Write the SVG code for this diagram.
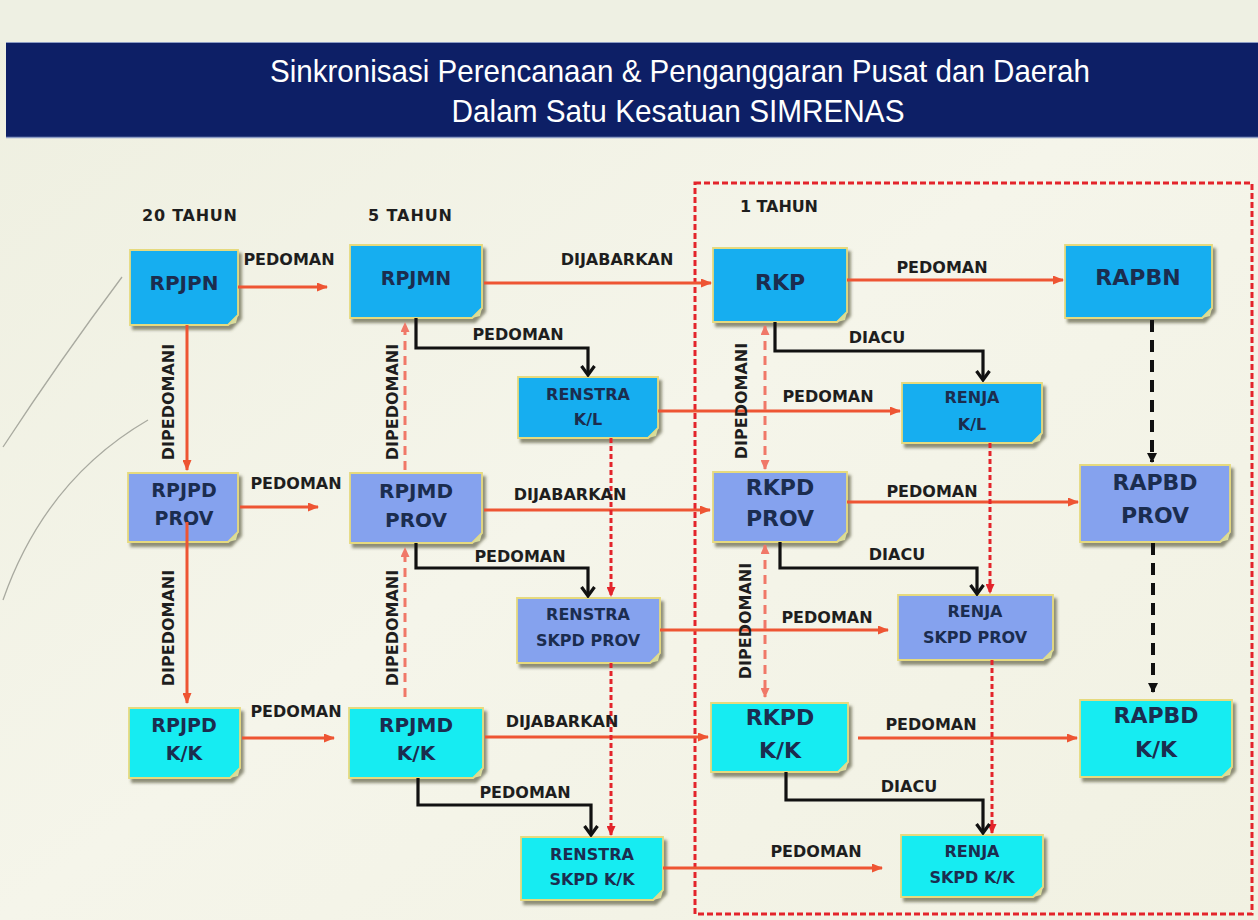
<svg xmlns="http://www.w3.org/2000/svg" width="1258" height="920" viewBox="0 0 1258 920">
<defs>
<linearGradient id="bg" x1="0" y1="0" x2="1" y2="1">
<stop offset="0" stop-color="#eeefe0"/>
<stop offset="0.5" stop-color="#f5f5ea"/>
<stop offset="1" stop-color="#f1f1e2"/>
</linearGradient>
<filter id="sh" x="-10%" y="-10%" width="130%" height="140%">
<feDropShadow dx="3" dy="4" stdDeviation="1.6" flood-color="#47472c" flood-opacity="0.6"/>
</filter>
<marker id="aO" markerUnits="userSpaceOnUse" markerWidth="11" markerHeight="9" refX="10" refY="4.5" orient="auto"><path d="M0,0 L11,4.5 L0,9 Z" fill="#ee5533"/></marker>
<marker id="aS" markerUnits="userSpaceOnUse" markerWidth="10" markerHeight="9" refX="9" refY="4.5" orient="auto-start-reverse"><path d="M0,0 L10,4.5 L0,9 Z" fill="#f07868"/></marker>
<marker id="aC" markerUnits="userSpaceOnUse" markerWidth="10" markerHeight="9" refX="9" refY="4.5" orient="auto"><path d="M0,0 L10,4.5 L0,9 Z" fill="#e3242b"/></marker>
<marker id="aV" markerUnits="userSpaceOnUse" markerWidth="12" markerHeight="16" refX="10" refY="8" orient="auto"><path d="M1,1.5 L10,8 L1,14.5" fill="none" stroke="#111" stroke-width="3.2"/></marker>
<marker id="aB" markerUnits="userSpaceOnUse" markerWidth="10" markerHeight="10" refX="9" refY="5" orient="auto"><path d="M0,0 L10,5 L0,10 Z" fill="#111"/></marker>
<style>
.box{stroke:#e6da7e;stroke-width:1.8;filter:url(#sh)}
.n1{fill:#12aef0}
.n2{fill:#85a2ee}
.n3{fill:#16ecf2}
.fold{fill:#d8dc9c}
.nt{font-family:"DejaVu Sans",Verdana,sans-serif;font-weight:bold;fill:#1b2d4f;text-anchor:middle}
.lb{font-family:"DejaVu Sans",Verdana,sans-serif;font-weight:bold;font-size:16px;fill:#1e1e1e;text-anchor:middle}
.yr{font-family:"DejaVu Sans",Verdana,sans-serif;font-weight:bold;font-size:16px;fill:#1e1e1e}
.or{fill:none;stroke:#ee5533;stroke-width:3;marker-end:url(#aO)}
.sd{fill:none;stroke:#f07868;stroke-width:3;stroke-dasharray:9 6}
.cd{fill:none;stroke:#e3242b;stroke-width:3;stroke-dasharray:5 3}
.bk{fill:none;stroke:#111;stroke-width:3.2;marker-end:url(#aV)}
.bd{fill:none;stroke:#111;stroke-width:4;stroke-dasharray:12 8;marker-end:url(#aB)}
.title{font-family:"Liberation Sans",Arial,sans-serif;font-size:32px;fill:#ffffff;text-anchor:middle}
</style>
</defs>

<rect width="1258" height="920" fill="url(#bg)"/>
<rect width="1258" height="42" fill="#eef0e3"/>
<g id="deco" fill="none" stroke="#a9aaa0" stroke-width="1.3">
<path d="M3,447 Q60,360 122,277"/>
<path d="M3,600 Q45,480 148,420"/>
</g>

<g id="banner">
<rect x="6" y="42" width="1252" height="96" fill="#0d1f66"/>
<line x1="6" y1="42.5" x2="1258" y2="42.5" stroke="#8c9cc4" stroke-width="1.2"/>
<line x1="6" y1="137.5" x2="1258" y2="137.5" stroke="#8c9cc4" stroke-width="1.5"/>
<text class="title" x="680" y="82" textLength="820" lengthAdjust="spacingAndGlyphs">Sinkronisasi Perencanaan &amp; Penganggaran Pusat dan Daerah</text>
<text class="title" x="678" y="122" textLength="453" lengthAdjust="spacingAndGlyphs">Dalam Satu Kesatuan SIMRENAS</text>
</g>

<rect id="frame" x="695" y="183" width="557" height="731" fill="none" stroke="#e3242b" stroke-width="3" stroke-dasharray="6 3"/>

<g id="years">
<text class="yr" x="142" y="221" textLength="95">20 TAHUN</text>
<text class="yr" x="368" y="221" textLength="84">5 TAHUN</text>
<text class="yr" x="740" y="212" textLength="78">1 TAHUN</text>
</g>

<g id="nodes">
<g id="RPJPN"><path class="box n1" d="M130,250 H238 V315 L228,325 H130 Z"/><polygon class="fold" points="238,315 228,325 236,323"/><text class="nt" x="184" y="290" font-size="20">RPJPN</text></g>
<g id="RPJMN"><path class="box n1" d="M350,245 H482 V308 L472,318 H350 Z"/><polygon class="fold" points="482,308 472,318 480,316"/><text class="nt" x="416" y="285" font-size="19">RPJMN</text></g>
<g id="RKP"><path class="box n1" d="M713,248 H847 V312 L837,322 H713 Z"/><polygon class="fold" points="847,312 837,322 845,320"/><text class="nt" x="780" y="290" font-size="22">RKP</text></g>
<g id="RAPBN"><path class="box n1" d="M1065,245 H1212 V308 L1202,318 H1065 Z"/><polygon class="fold" points="1212,308 1202,318 1210,316"/><text class="nt" x="1138" y="285" font-size="22">RAPBN</text></g>
<g id="RENSTRA_KL"><path class="box n1" d="M518,377 H658 V428 L648,438 H518 Z"/><polygon class="fold" points="658,428 648,438 656,436"/><text class="nt" x="588" y="400" font-size="16">RENSTRA</text><text class="nt" x="588" y="425" font-size="16">K/L</text></g>
<g id="RENJA_KL"><path class="box n1" d="M902,383 H1042 V433 L1032,443 H902 Z"/><polygon class="fold" points="1042,433 1032,443 1040,441"/><text class="nt" x="972" y="403" font-size="16">RENJA</text><text class="nt" x="972" y="430" font-size="16">K/L</text></g>

<g id="RPJPD_PROV"><path class="box n2" d="M128,473 H238 V532 L228,542 H128 Z"/><polygon class="fold" points="238,532 228,542 236,540"/><text class="nt" x="184" y="497" font-size="19">RPJPD</text><text class="nt" x="184" y="525" font-size="19">PROV</text></g>
<g id="RPJMD_PROV"><path class="box n2" d="M350,473 H482 V533 L472,543 H350 Z"/><polygon class="fold" points="482,533 472,543 480,541"/><text class="nt" x="416" y="498" font-size="20">RPJMD</text><text class="nt" x="416" y="527" font-size="20">PROV</text></g>
<g id="RKPD_PROV"><path class="box n2" d="M713,472 H847 V532 L837,542 H713 Z"/><polygon class="fold" points="847,532 837,542 845,540"/><text class="nt" x="780" y="495" font-size="22">RKPD</text><text class="nt" x="780" y="526" font-size="22">PROV</text></g>
<g id="RAPBD_PROV"><path class="box n2" d="M1080,465 H1230 V532 L1220,542 H1080 Z"/><polygon class="fold" points="1230,532 1220,542 1228,540"/><text class="nt" x="1155" y="490" font-size="22">RAPBD</text><text class="nt" x="1155" y="523" font-size="22">PROV</text></g>
<g id="RENSTRA_SKPD_PROV"><path class="box n2" d="M517,598 H660 V653 L650,663 H517 Z"/><polygon class="fold" points="660,653 650,663 658,661"/><text class="nt" x="588" y="620" font-size="16">RENSTRA</text><text class="nt" x="588" y="646" font-size="16">SKPD PROV</text></g>
<g id="RENJA_SKPD_PROV"><path class="box n2" d="M898,595 H1053 V650 L1043,660 H898 Z"/><polygon class="fold" points="1053,650 1043,660 1051,658"/><text class="nt" x="975" y="617" font-size="16">RENJA</text><text class="nt" x="975" y="643" font-size="16">SKPD PROV</text></g>

<g id="RPJPD_KK"><path class="box n3" d="M129,708 H240 V768 L230,778 H129 Z"/><polygon class="fold" points="240,768 230,778 238,776"/><text class="nt" x="184" y="732" font-size="19">RPJPD</text><text class="nt" x="184" y="760" font-size="19">K/K</text></g>
<g id="RPJMD_KK"><path class="box n3" d="M349,708 H483 V768 L473,778 H349 Z"/><polygon class="fold" points="483,768 473,778 481,776"/><text class="nt" x="416" y="732" font-size="20">RPJMD</text><text class="nt" x="416" y="760" font-size="20">K/K</text></g>
<g id="RENSTRA_SKPD_KK"><path class="box n3" d="M521,837 H663 V890 L653,900 H521 Z"/><polygon class="fold" points="663,890 653,900 661,898"/><text class="nt" x="592" y="860" font-size="16">RENSTRA</text><text class="nt" x="592" y="885" font-size="16">SKPD K/K</text></g>
<g id="RKPD_KK"><path class="box n3" d="M711,703 H848 V762 L838,772 H711 Z"/><polygon class="fold" points="848,762 838,772 846,770"/><text class="nt" x="780" y="725" font-size="22">RKPD</text><text class="nt" x="780" y="758" font-size="22">K/K</text></g>
<g id="RAPBD_KK"><path class="box n3" d="M1080,700 H1232 V767 L1222,777 H1080 Z"/><polygon class="fold" points="1232,767 1222,777 1230,775"/><text class="nt" x="1156" y="723" font-size="22">RAPBD</text><text class="nt" x="1156" y="757" font-size="22">K/K</text></g>
<g id="RENJA_SKPD_KK"><path class="box n3" d="M901,835 H1043 V887 L1033,897 H901 Z"/><polygon class="fold" points="1043,887 1033,897 1041,895"/><text class="nt" x="972" y="857" font-size="16">RENJA</text><text class="nt" x="972" y="883" font-size="16">SKPD K/K</text></g>
</g>

<g id="connectors">
<path class="or" d="M238,287 H327"/>
<path class="or" d="M484,283 H711"/>
<path class="or" d="M847,280 H1063"/>
<path class="or" d="M658,411 H900"/>
<path class="or" d="M187,325 V470"/>
<path class="or" d="M187,522 V703"/>
<path class="or" d="M240,507 H318"/>
<path class="or" d="M484,510 H710"/>
<path class="or" d="M847,502 H1078"/>
<path class="or" d="M660,630 H888"/>
<path class="or" d="M242,738 H334"/>
<path class="or" d="M485,737 H708"/>
<path class="or" d="M858,738 H1077"/>
<path class="or" d="M663,868 H882"/>

<path class="sd" d="M405,470 V323" marker-end="url(#aS)"/>
<path class="sd" d="M405,697 V548" marker-end="url(#aS)"/>
<path class="sd" d="M765,326 V469" marker-start="url(#aS)" marker-end="url(#aS)"/>
<path class="sd" d="M765,545 V697" marker-start="url(#aS)" marker-end="url(#aS)"/>

<path class="cd" d="M611,438 V596" marker-end="url(#aC)"/>
<path class="cd" d="M611,663 V835" marker-end="url(#aC)"/>
<path class="cd" d="M990,443 V593" marker-end="url(#aC)"/>
<path class="cd" d="M992,660 V833" marker-end="url(#aC)"/>

<path class="bk" d="M416,318 V348 H588 V375"/>
<path class="bk" d="M416,543 V568 H588 V596"/>
<path class="bk" d="M418,778 V805 H591 V835"/>
<path class="bk" d="M775,322 V351 H983 V380"/>
<path class="bk" d="M780,542 V568 H977 V594"/>
<path class="bk" d="M786,772 V800 H983 V833"/>

<path class="bd" d="M1152,320 V462"/>
<path class="bd" d="M1153,543 V692"/>
</g>

<g id="labels">
<text class="lb" x="289" y="265">PEDOMAN</text>
<text class="lb" x="617" y="265">DIJABARKAN</text>
<text class="lb" x="942" y="273">PEDOMAN</text>
<text class="lb" x="518" y="340">PEDOMAN</text>
<text class="lb" x="877" y="343">DIACU</text>
<text class="lb" x="828" y="402">PEDOMAN</text>
<text class="lb" x="296" y="489">PEDOMAN</text>
<text class="lb" x="570" y="500">DIJABARKAN</text>
<text class="lb" x="932" y="497">PEDOMAN</text>
<text class="lb" x="520" y="562">PEDOMAN</text>
<text class="lb" x="897" y="560">DIACU</text>
<text class="lb" x="827" y="623">PEDOMAN</text>
<text class="lb" x="296" y="717">PEDOMAN</text>
<text class="lb" x="562" y="727">DIJABARKAN</text>
<text class="lb" x="931" y="730">PEDOMAN</text>
<text class="lb" x="525" y="798">PEDOMAN</text>
<text class="lb" x="909" y="792">DIACU</text>
<text class="lb" x="816" y="857">PEDOMAN</text>
<text class="lb" transform="translate(174,402) rotate(-90)" font-size="15.5">DIPEDOMANI</text>
<text class="lb" transform="translate(174,628) rotate(-90)" font-size="15.5">DIPEDOMANI</text>
<text class="lb" transform="translate(398,402) rotate(-90)" font-size="15.5">DIPEDOMANI</text>
<text class="lb" transform="translate(398,628) rotate(-90)" font-size="15.5">DIPEDOMANI</text>
<text class="lb" transform="translate(747,401) rotate(-90)" font-size="15.5">DIPEDOMANI</text>
<text class="lb" transform="translate(751,621) rotate(-90)" font-size="15.5">DIPEDOMANI</text>
</g>
</svg>
